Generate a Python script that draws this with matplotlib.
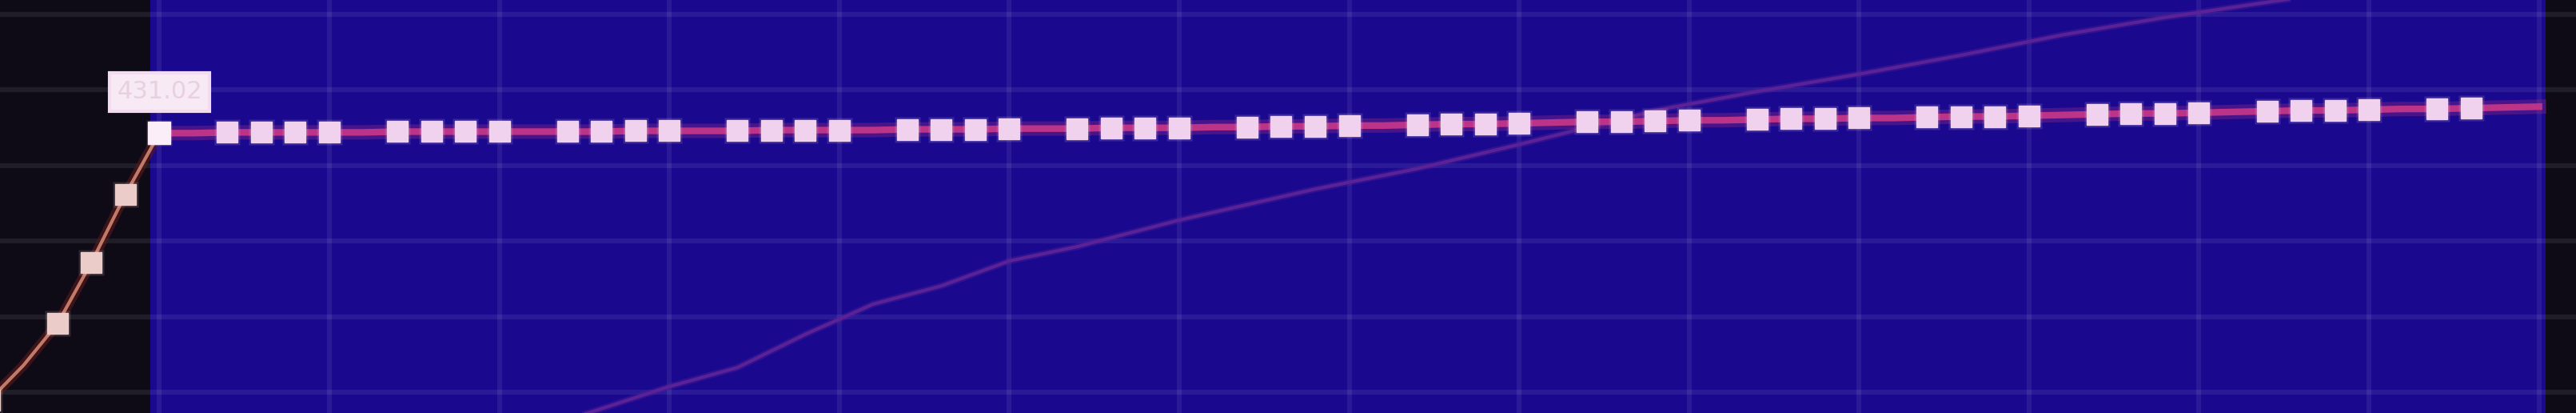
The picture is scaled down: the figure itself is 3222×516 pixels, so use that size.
import numpy as np
import matplotlib
matplotlib.use('Agg')
from matplotlib import pyplot as plt

# x = day index, y = value
ramp_x = [-5, -4, -3, -2, -1, 0]
ramp_y = [-1.0, 3.6, 9.1, 17.2, 26.2, 34.3]
ramp_marked = [0, 2, 3, 4, 5]

plateau_x = list(range(0, 71))
plateau_y = [34.3, 34.3, 34.4, 34.4, 34.4, 34.4, 34.4, 34.5, 34.5, 34.5,
             34.5, 34.5, 34.5, 34.5, 34.6, 34.6, 34.6, 34.6, 34.7, 34.7,
             34.7, 34.7, 34.8, 34.8, 34.8, 34.9, 34.9, 34.9, 35.0, 35.0,
             35.0, 35.1, 35.1, 35.2, 35.2, 35.3, 35.3, 35.4, 35.5, 35.5,
             35.6, 35.7, 35.8, 35.8, 35.9, 36.0, 36.0, 36.1, 36.2, 36.2,
             36.3, 36.3, 36.4, 36.5, 36.5, 36.6, 36.7, 36.8, 36.9, 36.9,
             37.0, 37.1, 37.2, 37.3, 37.3, 37.4, 37.5, 37.5, 37.6, 37.7,
             37.8]
# days shown with a marker (one day in five has none)
plateau_marked = [i for i in plateau_x if i % 5 != 1 and 0 < i <= 68]

trend_x = [12, 15, 17, 19, 21, 23, 25, 27, 30, 34, 37, 40, 44, 47, 50, 53, 56, 59, 62, 65]
trend_y = [-3.6, 0.8, 3.3, 7.7, 11.7, 14.1, 17.4, 19.3, 22.8, 26.9, 29.6, 32.8,
           37.3, 39.8, 42.1, 44.6, 47.3, 49.6, 51.6, 53.6]

label_text = '431.02'

dark = '#0e0b16'
blue = '#1a088f'

fig = plt.figure(figsize=(32.22, 5.16), dpi=100)
fig.patch.set_facecolor(dark)
ax = fig.add_axes([0, 0, 1, 1])
ax.set_facecolor(dark)
ax.set_xlim(-4.69, 71.09)
ax.set_ylim(-2.7, 51.9)

# blue plotting area
ax.axvspan(-0.27, 70.2, color=blue, zorder=0.2, lw=0)

ax.set_xticks(range(0, 71, 5))
ax.set_yticks(range(0, 51, 10))
ax.tick_params(length=0, labelbottom=False, labelleft=False)
for s in ax.spines.values():
    s.set_visible(False)
ax.set_axisbelow(True)
ax.grid(True, color='white', alpha=0.075, lw=4.5)

# faint trend line
ax.plot(trend_x, trend_y, color='#5a2296', lw=6, alpha=0.35, zorder=2)
ax.plot(trend_x, trend_y, color='#5a2296', lw=3, zorder=2)

# ramp in dark panel
ax.plot(ramp_x, ramp_y, color='#5a1a1a', lw=9, alpha=0.6, zorder=3)
ax.plot(ramp_x, ramp_y, color='#c27a68', lw=3, zorder=3)
ax.plot(ramp_x, ramp_y, ls='none', marker='s', ms=23, color='#ebccc8', mec='none',
        alpha=0.15, markevery=ramp_marked, zorder=4)
ax.plot(ramp_x, ramp_y, ls='none', marker='s', ms=19, color='#ebccc8', mec='#ebccc8',
        markevery=ramp_marked, zorder=4)

# plateau
ax.plot(plateau_x, plateau_y, color='#b0307f', lw=13, alpha=0.3, zorder=3)
ax.plot(plateau_x, plateau_y, color='#bb3488', lw=6, zorder=3)
ax.plot(plateau_x, plateau_y, ls='none', marker='s', ms=23, color='#f0d2ee', mec='none',
        alpha=0.15, markevery=plateau_marked, zorder=4)
ax.plot(plateau_x, plateau_y, ls='none', marker='s', ms=19, color='#f0d2ee', mec='#f0d2ee',
        markevery=plateau_marked, zorder=4)
ax.plot(plateau_x[0], plateau_y[0], ls='none', marker='s', ms=20, color='#fbeef8',
        mec='#fbeef8', zorder=5)

ax.annotate(label_text, xy=(plateau_x[0], plateau_y[0]), xytext=(0, 37),
            textcoords='offset points', ha='center', va='center',
            fontsize=22, color='#e8d0e2', zorder=6,
            bbox=dict(boxstyle='square,pad=0.3', fc='#f7eaf5', ec='#f3dcef', lw=3))

fig.savefig('out.png', dpi=100, facecolor=dark)
